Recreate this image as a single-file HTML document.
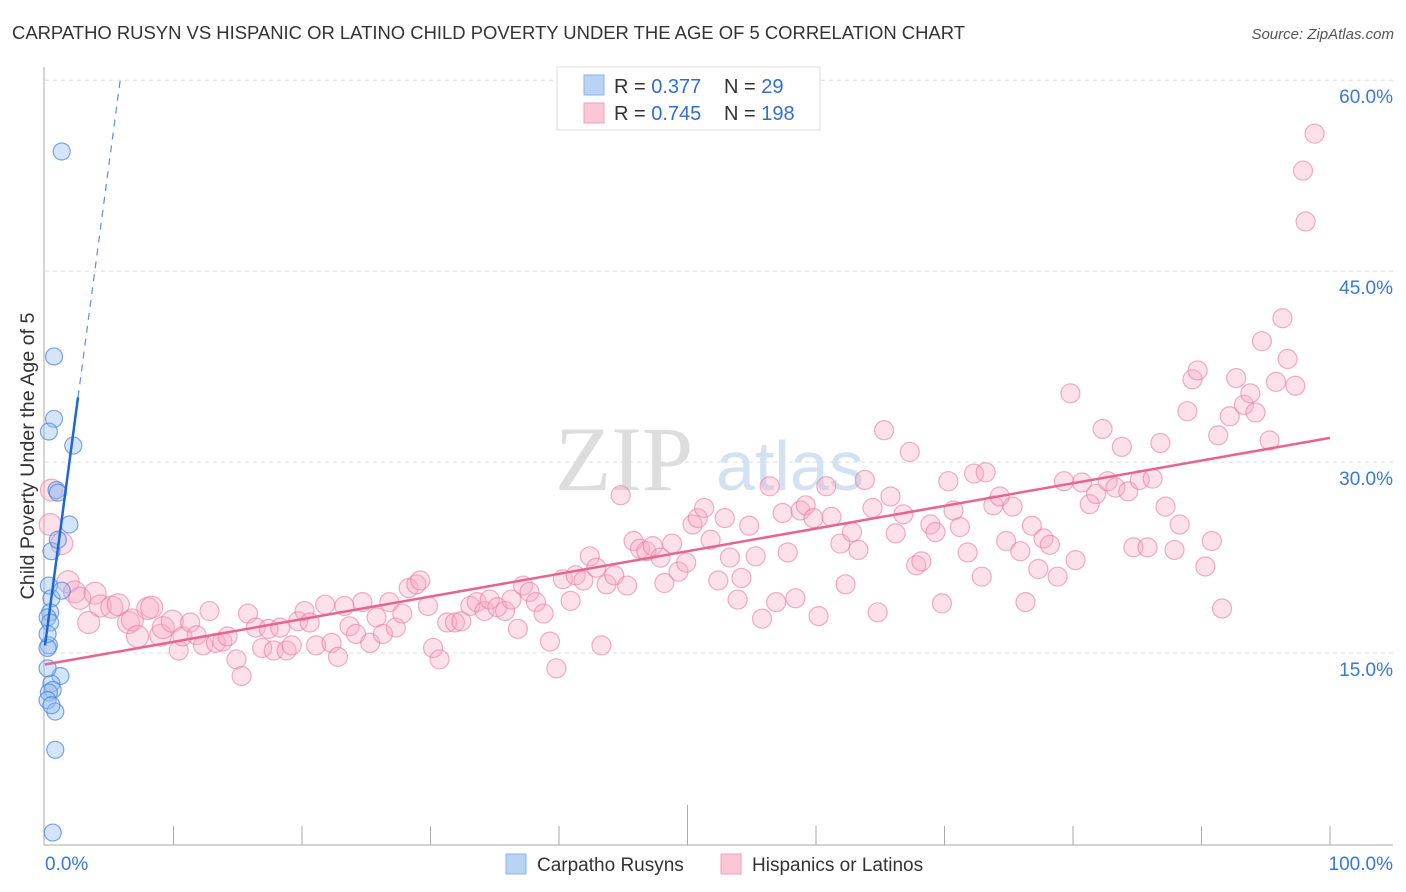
<!DOCTYPE html>
<html><head><meta charset="utf-8">
<style>
body{margin:0;background:#fff;font-family:"Liberation Sans",sans-serif;}
svg{display:block}
</style></head>
<body>
<svg id="chart" width="1406" height="892" xmlns="http://www.w3.org/2000/svg" font-family="Liberation Sans, sans-serif">
<text x="12" y="39" font-size="18.4" fill="#333" textLength="953" lengthAdjust="spacingAndGlyphs">CARPATHO RUSYN VS HISPANIC OR LATINO CHILD POVERTY UNDER THE AGE OF 5 CORRELATION CHART</text>
<text x="1394" y="39" font-size="15" fill="#555" text-anchor="end" font-style="italic">Source: ZipAtlas.com</text>
<g>
<text x="555" y="490" font-size="92" fill="#ddd" font-family="Liberation Serif, serif">ZIP</text>
<text x="716" y="490" font-size="70" fill="#d3e1f2">atlas</text>
</g>
<g id="grid"></g>
<g id="axes"></g>
<g id="pink"></g>
<g id="blue"></g>
<g id="lines"></g>
<g>
<rect x="557" y="67" width="263" height="63" fill="#fff" stroke="#ddd"/>
<rect x="584" y="75" width="20" height="20" fill="#b8d3f4" stroke="#8ab3e8"/>
<rect x="584" y="103" width="20" height="20" fill="#fbc6d6" stroke="#f0a0bb"/>
<text x="614" y="93" font-size="20" fill="#333">R = <tspan fill="#2f6fd0">0.377</tspan></text>
<text x="724" y="93" font-size="20" fill="#333">N = <tspan fill="#2f6fd0">  29</tspan></text>
<text x="614" y="120" font-size="20" fill="#333">R = <tspan fill="#2f6fd0">0.745</tspan></text>
<text x="724" y="120" font-size="20" fill="#333">N = <tspan fill="#2f6fd0">198</tspan></text>
</g>
<g>
<rect x="506" y="854" width="20" height="20" fill="#b8d3f4" stroke="#8ab3e8"/>
<text x="537" y="871" font-size="19" fill="#333">Carpatho Rusyns</text>
<rect x="721" y="854" width="20" height="20" fill="#fbc6d6" stroke="#f0a0bb"/>
<text x="752" y="871" font-size="19" fill="#333">Hispanics or Latinos</text>
</g>
<text transform="translate(34,456) rotate(-90)" text-anchor="middle" font-size="19" fill="#333" textLength="287" lengthAdjust="spacingAndGlyphs">Child Poverty Under the Age of 5</text>
</svg>
<script>
const yTicks=[15,30,45,60];
const yTickLabels=["15.0%","30.0%","45.0%","60.0%"];
const blueX=[1.3,0.7,0.7,0.3,2.2,0.9,1.0,1.9,0.5,1.0,0.3,0.5,1.3,0.4,0.2,0.4,0.3,0.2,1.2,0.5,0.6,0.3,0.2,0.8,0.5,0.8,0.6,0.2,0.2];
const blueY=[54.4,38.3,33.4,32.4,31.3,27.8,27.6,25.1,23.0,23.9,20.3,19.3,19.9,18.2,17.8,17.4,15.6,15.4,13.2,12.6,12.1,11.9,11.3,10.4,10.9,7.4,0.9,13.8,16.5];
const pinkX=[0.4,0.5,1.3,1.8,2.3,2.7,3.4,3.9,4.3,5.2,5.7,6.5,6.8,7.2,8.0,8.3,9.0,9.2,9.9,10.4,10.7,11.3,11.8,12.3,12.8,13.3,13.8,14.2,14.9,15.3,15.8,16.4,16.9,17.4,17.8,18.3,18.8,19.2,19.7,20.2,20.6,21.1,21.8,22.3,22.8,23.3,23.7,24.2,24.7,25.3,25.8,26.3,26.8,27.3,27.8,28.3,28.9,29.2,29.8,30.2,30.7,31.3,31.9,32.4,33.1,33.6,34.2,34.6,35.2,35.8,36.3,36.8,37.2,37.7,38.2,38.8,39.3,39.8,40.3,40.9,41.3,41.9,42.4,42.9,43.3,43.7,44.3,44.8,45.3,45.8,46.3,46.8,47.3,47.9,48.2,48.8,49.3,49.9,50.4,50.8,51.3,51.8,52.4,52.9,53.3,53.9,54.2,54.8,55.3,55.8,56.4,56.9,57.4,57.8,58.4,58.8,59.2,59.8,60.2,60.8,61.2,61.9,62.3,62.8,63.3,63.8,64.4,64.8,65.3,65.8,66.2,66.8,67.3,67.8,68.2,68.9,69.3,69.8,70.3,70.7,71.2,71.8,72.3,72.9,73.2,73.8,74.3,74.8,75.3,75.9,76.3,76.8,77.3,77.7,78.2,78.8,79.3,79.8,80.2,80.7,81.3,81.8,82.3,82.7,83.3,83.8,84.3,84.7,85.2,85.8,86.2,86.8,87.2,87.9,88.3,88.9,89.3,89.7,90.3,90.8,91.6,91.3,92.2,92.7,93.3,93.8,94.2,94.7,95.3,95.8,96.3,96.7,97.3,97.9,98.1,98.8];
const pinkY=[25.1,27.8,23.6,20.6,19.8,19.3,17.4,19.7,18.7,18.6,18.8,17.4,17.6,16.3,18.5,18.6,16.4,17.0,17.5,15.2,16.3,17.4,16.4,15.6,18.3,15.8,15.9,16.3,14.5,13.2,18.1,17.0,15.4,16.9,15.2,17.0,15.2,15.6,17.5,18.3,17.4,15.6,18.8,15.8,14.7,18.7,17.1,16.5,19.0,15.8,17.8,16.5,19.0,17.0,18.1,20.1,20.4,20.7,18.7,15.4,14.5,17.4,17.4,17.5,18.7,19.0,18.3,19.2,18.6,18.3,19.2,16.9,20.3,19.8,19.0,18.1,15.9,13.8,20.8,19.1,21.1,20.7,22.6,21.7,15.6,20.4,21.1,27.4,20.3,23.8,23.2,23.0,23.4,22.5,20.5,23.6,21.4,22.1,25.1,25.6,26.4,23.9,20.7,25.6,22.5,19.2,20.9,25.0,22.6,17.7,28.1,19.0,26.0,22.9,19.3,26.2,26.6,25.6,17.9,28.1,25.7,23.6,20.4,24.5,23.1,28.6,26.4,18.2,32.5,27.3,24.4,25.9,30.8,21.9,22.2,25.1,24.5,18.9,28.5,26.2,24.9,22.9,29.1,21.0,29.2,26.6,27.3,23.8,26.5,23.0,19.0,25.0,21.6,24.0,23.5,21.0,28.5,35.4,22.3,28.4,26.7,27.5,32.6,28.5,28.0,31.2,27.7,23.3,28.6,23.3,28.7,31.5,26.5,23.1,25.1,34.0,36.5,37.2,21.8,23.8,18.5,32.1,33.6,36.6,34.5,35.4,33.9,39.5,31.7,36.3,41.3,38.1,36.0,52.9,48.9,55.8];
const blueTrend=[[0,15.6],[2.57,35.1]];
const blueDash=[[2.57,35.1],[5.85,60]];
const pinkTrend=[[0,14.1],[100,31.9]];

const NS="http://www.w3.org/2000/svg";
const X0=45,X1=1330,Y0=844,YS=12.73;
function sx(v){return X0+(X1-X0)*v/100;}
function sy(v){return Y0-v*YS;}
function mk(tag,attrs,parent){const e=document.createElementNS(NS,tag);for(const k in attrs)e.setAttribute(k,attrs[k]);parent.appendChild(e);return e;}
const grid=document.getElementById('grid'),axes=document.getElementById('axes');
yTicks.forEach((t,i)=>{
  const l=mk('line',{x1:45,x2:1393,y1:sy(t),y2:sy(t),stroke:'#ddd','stroke-dasharray':'4,4'},grid);
  
  
  const tx=mk('text',{x:1393,y:sy(t)+23,'font-size':19,fill:'#3a78d6','text-anchor':'end'},axes);
  tx.textContent=yTickLabels[i];
  
  
});
mk('line',{x1:44,x2:44,y1:67,y2:845,stroke:'#aaa'},axes);
mk('line',{x1:44,x2:1393,y1:845,y2:845,stroke:'#aaa'},axes);
for(let i=1;i<=10;i++){
  const t=mk('line',{x1:sx(i*10),x2:sx(i*10),y1:(i==5?805:826),y2:845,stroke:'#aaa'},axes);
  
  
}
const xl=mk('text',{x:45,y:870,'font-size':19,fill:'#3a78d6'},axes);xl.textContent='0.0%';


const xr=mk('text',{x:1393,y:870,'font-size':19,fill:'#3a78d6','text-anchor':'end'},axes);xr.textContent='100.0%';


const pg=document.getElementById('pink');
pinkX.forEach((x,i)=>{
  const c=mk('circle',{cx:sx(x),cy:sy(pinkY[i]),r:(x<10?11:9.5),fill:'rgba(248,170,195,0.35)',stroke:'rgba(235,120,160,0.6)','stroke-width':1.2},pg);
  
  
});
const bg=document.getElementById('blue');
blueX.forEach((x,i)=>{
  const c=mk('circle',{cx:sx(x),cy:sy(blueY[i]),r:8.5,fill:'rgba(150,190,240,0.4)',stroke:'rgba(70,130,220,0.7)','stroke-width':1.2},bg);
  
  
});
const lg=document.getElementById('lines');
const b1=mk('line',{x1:sx(blueTrend[0][0]),y1:sy(blueTrend[0][1]),x2:sx(blueTrend[1][0]),y2:sy(blueTrend[1][1]),stroke:'#1f66d8','stroke-width':2.5},lg);


const b2=mk('line',{x1:sx(blueDash[0][0]),y1:sy(blueDash[0][1]),x2:sx(blueDash[1][0]),y2:sy(blueDash[1][1]),stroke:'#5b8fe0','stroke-width':1.2,'stroke-dasharray':'7,6'},lg);


const p1=mk('line',{x1:sx(pinkTrend[0][0]),y1:sy(pinkTrend[0][1]),x2:sx(pinkTrend[1][0]),y2:sy(pinkTrend[1][1]),stroke:'#e8648f','stroke-width':2.5},lg);


</script>
</body></html>
